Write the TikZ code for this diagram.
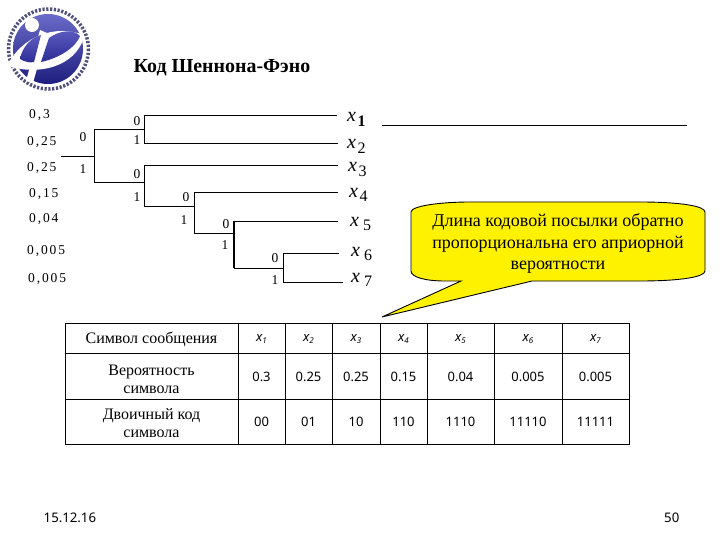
\documentclass[tikz,border=0pt]{standalone}
\usepackage{fontspec}
\setmainfont{Liberation Serif}
\newfontfamily\sansf{Noto Sans}
\newfontfamily\spacedf[LetterSpace=14]{Liberation Serif}
\definecolor{logotop}{HTML}{6A6AC8}
\definecolor{logobot}{HTML}{1E1E80}
\definecolor{lenstop}{HTML}{5C5CC0}
\definecolor{lensbot}{HTML}{2C2C96}
\definecolor{logoring}{HTML}{50507C}
\begin{document}
\begin{tikzpicture}[x=1pt,y=-1pt,
  tree/.style={line width=0.9pt,black},
  treethick/.style={line width=1.8pt,black},
  bit/.style={font=\fontsize{13.5}{13.5}\selectfont,inner sep=0pt},
  prob/.style={font=\spacedf\fontsize{13.5}{13.5}\selectfont,inner sep=0pt,anchor=west},
  leaf/.style={anchor=base west,inner sep=0pt,font=\fontsize{20}{20}\selectfont},
  grid/.style={line width=0.8pt,black},
  cellt/.style={font=\fontsize{16}{17.8}\selectfont,align=center,inner sep=0pt},
  celln/.style={font=\sansf\fontsize{13}{14}\selectfont,inner sep=0pt},
  cellx/.style={font=\sansf\itshape\fontsize{13}{13}\selectfont,inner sep=0pt},
  foot/.style={font=\sansf\fontsize{13.2}{13}\selectfont,inner sep=0pt}]
\useasboundingbox (0,0) rectangle (720,540);
\fill[white] (0,0) rectangle (720,540);
% logo
\draw[line width=3.5pt,draw=logoring,dash pattern=on 2.2pt off 1.6pt] (48.5,49) circle[radius=40];
\shade[top color=logotop,bottom color=logobot] (48,49) circle[radius=35];
\fill[white] (7,66) .. controls (22,36) and (55,24) .. (84,35) .. controls (80,60) and (48,78) .. (7,66) -- cycle;
\fill[white] (40,30) -- (47,33) -- (33,83) -- (26,81) -- cycle;
\shade[top color=lenstop,bottom color=lensbot] (49,38) .. controls (60,30) and (74,29) .. (80,36) .. controls (76,47) and (60,58) .. (41,62) -- cycle;
\shade[top color=lenstop,bottom color=lensbot] (41,35) .. controls (30,38) and (22,48) .. (20,59) .. controls (25,62) and (30,63) .. (34,62) -- cycle;
\fill[white] (32,25) circle[radius=7];
% title
\node[anchor=base west,inner sep=0pt,font=\bfseries\fontsize{19.9}{20}\selectfont] (title) at (133.5,72.5) {Код Шеннона-Фэно};
% tree coordinates
\coordinate (root) at (61,156);
\coordinate (a) at (94,156);
\coordinate (a0) at (94,129);
\coordinate (a1) at (94,182);
\coordinate (b) at (144,129);
\coordinate (b0) at (144,115);
\coordinate (b1) at (144,143);
\coordinate (c) at (144,182);
\coordinate (c0) at (144,165);
\coordinate (c1) at (144,206);
\coordinate (d0) at (194,192);
\coordinate (d) at (194,206);
\coordinate (d1) at (194,233);
\coordinate (e) at (234,233);
\coordinate (e0) at (234,221);
\coordinate (e1) at (234,268);
\coordinate (f) at (283,268);
\coordinate (f0) at (283,253);
\coordinate (f1) at (283,282);
\coordinate (l1) at (337,115);
\coordinate (l2) at (338,143);
\coordinate (l3) at (338,165);
\coordinate (l4) at (338,192);
\coordinate (l5) at (338,221);
\coordinate (l6) at (339,253);
\coordinate (l7) at (343,282);
\draw[tree] (root) -- (a) (a0) -- (a1) (a0) -- (b) (b0) -- (b1) (b0) -- (l1) (b1) -- (l2);
\draw[tree] (a1) -- (c) (c0) -- (c1) (c0) -- (l3) (c1) -- (d) (d0) -- (d1) (d0) -- (l4) (d1) -- (e);
\draw[treethick] (e0) -- (e1);
\draw[tree] (e0) -- (l5) (e1) -- (f) (f0) -- (f1) (f0) -- (l6) (f1) -- (l7);
% rule
\coordinate (r0) at (382,125);
\coordinate (r1) at (687,125);
\draw[line width=0.9pt] (r0) -- (r1);
% bits
\node[bit] (n1) at (83,137) {0};
\node[bit] (n2) at (83,169) {1};
\node[bit] (n3) at (137,121) {0};
\node[bit] (n4) at (137,140) {1};
\node[bit] (n5) at (137,174) {0};
\node[bit] (n6) at (137,197) {1};
\node[bit] (n7) at (186,197) {0};
\node[bit] (n8) at (184,220) {1};
\node[bit] (n9) at (226,224) {0};
\node[bit] (n10) at (225,245) {1};
\node[bit] (n11) at (275,258) {0};
\node[bit] (n12) at (275,280) {1};
% probabilities
\node[prob] (p1) at (29,115) {0,3};
\node[prob] (p2) at (27,142) {0,25};
\node[prob] (p3) at (27,168) {0,25};
\node[prob] (p4) at (29,194) {0,15};
\node[prob] (p5) at (29,219) {0,04};
\node[prob] (p6) at (27,251) {0,005};
\node[prob] (p7) at (28,279) {0,005};
% leaves
\newcommand{\leafx}[1]{\textit{x}\kern1.5pt\raisebox{-4.5pt}{\fontsize{16}{16}\selectfont #1}}
\node[leaf] (x1) at (347,122) {\textit{x}\kern1.5pt\raisebox{-4.5pt}{\fontsize{16}{16}\selectfont\bfseries 1}};
\node[leaf] (x2) at (347,149) {\leafx{2}};
\node[leaf] (x3) at (348,172) {\leafx{3}};
\node[leaf] (x4) at (349,197) {\leafx{4}};
\node[leaf] (x5) at (350,226) {\textit{x}\kern4pt\raisebox{-4.5pt}{\fontsize{16}{16}\selectfont 5}};
\node[leaf] (x6) at (351,256) {\textit{x}\kern4pt\raisebox{-4.5pt}{\fontsize{16}{16}\selectfont 6}};
\node[leaf] (x7) at (351,282) {\textit{x}\kern4pt\raisebox{-4.5pt}{\fontsize{16}{16}\selectfont 7}};
% callout
\draw[fill=yellow,line width=0.9pt] (411,212) .. controls (411,206) and (440,202) .. (470,202)
  -- (640,202) .. controls (680,202) and (705,206) .. (705,212)
  -- (705,271) .. controls (705,277) and (680,281) .. (640,281)
  -- (532,281) -- (382,317) -- (461,281) -- (445,281)
  .. controls (425,281) and (411,277) .. (411,271) -- cycle;
\node[inner sep=0pt,align=center,font=\fontsize{18}{21.7}\selectfont] (note) at (558,243.5) {Длина кодовой посылки обратно\\пропорциональна его априорной\\вероятности};
% table
\draw[grid] (65,323) rectangle (629,444);
\draw[grid] (65,353) -- (629,353) (65,399) -- (629,399);
\foreach \c in {238,285,332,380,427,494,562} \draw[grid] (\c,323) -- (\c,444);
\node[cellt] (h0) at (151.5,339) {Символ сообщения};
\node[cellt] (h1) at (151.5,379) {Вероятность\\символа};
\node[cellt] (h2) at (151.5,423) {Двоичный код\\символа};
\foreach \i/\cx in {1/261.5,2/308.5,3/356,4/403.5,5/460.5,6/528,7/595.5}{
  \node[cellx] (hx\i) at (\cx,339) {x\raisebox{-2.5pt}{\fontsize{8}{8}\selectfont\i}};
}
\foreach \cx/\t/\n in {261.5/0.3/a,308.5/0.25/b,356/0.25/c,403.5/0.15/d,460.5/0.04/e,528/0.005/f,595.5/0.005/g}{
  \node[celln] (v\n) at (\cx,377) {\t};
}
\foreach \cx/\t/\n in {261.5/00/a,308.5/01/b,356/10/c,403.5/110/d,460.5/1110/e,528/11110/f,595.5/11111/g}{
  \node[celln] (w\n) at (\cx,422) {\t};
}
% footer
\node[foot,anchor=base west] (date) at (43.5,522) {15.12.16};
\node[foot,anchor=base east] (page) at (679.5,522) {50};
\end{tikzpicture}
\end{document}
